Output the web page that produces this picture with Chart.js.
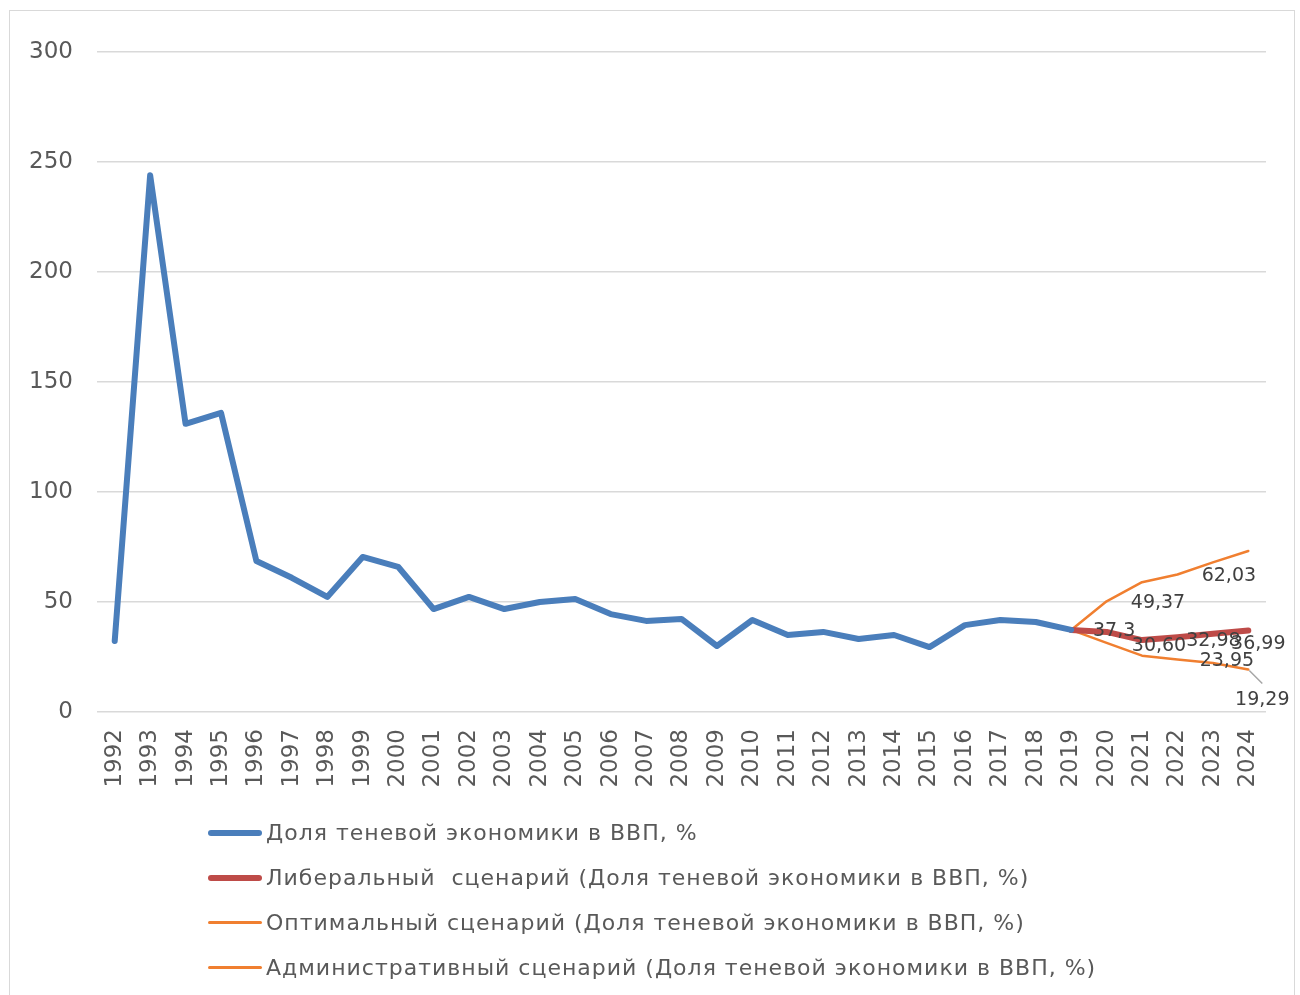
<!DOCTYPE html>
<html>
<head>
<meta charset="utf-8">
<script src="https://cdn.jsdelivr.net/npm/chart.js@4.4.1/dist/chart.umd.min.js"></script>
<style>
    body { margin: 0; background: #fff; font-family: "DejaVu Sans", sans-serif; }
    #frame { position: absolute; left: 9px; top: 10px; width: 1286px; height: 1000px; border: 1px solid #d9d9d9; box-sizing: border-box; }
    #wrap { position: absolute; left: 0; top: 0; width: 1300px; height: 995px; }
    #legend { position: absolute; left: 208px; top: 810px; }
    .row { height: 45px; display: flex; align-items: center; color: #595959; font-size: 22px; letter-spacing: 1px; white-space: pre; }
    .swatch { width: 54px; margin-right: 4px; border-radius: 3px; }
</style>
</head>
<body>
<div id="frame"></div>
<div id="wrap"><canvas id="chart" width="1300" height="995"></canvas></div>
<div id="legend"></div>
<script>
const years = ["1992", "1993", "1994", "1995", "1996", "1997", "1998", "1999", "2000", "2001", "2002",
    "2003", "2004", "2005", "2006", "2007", "2008", "2009", "2010", "2011", "2012", "2013", "2014",
    "2015", "2016", "2017", "2018", "2019", "2020", "2021", "2022", "2023", "2024"];

const shadowShare = [32.3, 244, 131, 136, 68.6, 61, 52.3, 70.5, 66, 46.8, 52.3, 46.8, 50, 51.4, 44.5,
    41.4, 42.3, 30, 41.8, 35, 36.4, 33.2, 35, 29.5, 39.5, 41.8, 40.9, 37.3];

// scenarios start from 2019
const pad = new Array(27).fill(null);
const liberal = pad.concat([37.3, 36.4, 32.7, 34.0, 35.6, 37.0]);
const optimal = pad.concat([37.3, 50.3, 59.0, 62.5, 68.0, 73.2]);
const administrative = pad.concat([37.3, 31.4, 25.6, 23.9, 22.3, 19.3]);

const seriesNames = [
    "Доля теневой экономики в ВВП, %",
    "Либеральный  сценарий (Доля теневой экономики в ВВП, %)",
    "Оптимальный сценарий (Доля теневой экономики в ВВП, %)",
    "Административный сценарий (Доля теневой экономики в ВВП, %)"
];

// label text, dataset, point index, offset
const pointLabels = [
    ["37,3", 1, 27, 43, 1],
    ["49,37", 2, 29, 16, 21],
    ["30,60", 1, 29, 17, 6],
    ["32,98", 1, 30, 36, 4],
    ["62,03", 2, 31, 16, 14],
    ["23,95", 3, 31, 14, -2],
    ["36,99", 1, 32, 10, 13],
    ["19,29", 3, 32, 14, 31]
];

const colors = ["#4a7ebb", "#be4b48", "#f07f30", "#f07f30"];
const widths = [6, 6, 2.5, 2.5];

const labelPlugin = {
    id: "pointLabels",
    afterDatasetsDraw(chart) {
        const ctx = chart.ctx;
        ctx.save();
        ctx.font = "19px 'DejaVu Sans'";
        ctx.fillStyle = "#404040";
        ctx.textAlign = "center";
        ctx.textBaseline = "middle";
        pointLabels.forEach(([text, ds, idx, dx, dy]) => {
            const x = chart.scales.x.getPixelForValue(idx);
            const y = chart.scales.y.getPixelForValue(chart.data.datasets[ds].data[idx]);
            if (text === "19,29") {
                ctx.strokeStyle = "#a6a6a6";
                ctx.lineWidth = 1.5;
                ctx.beginPath();
                ctx.moveTo(x + 1, y + 1);
                ctx.lineTo(x + 14, y + 14);
                ctx.stroke();
            }
            ctx.fillText(text, x + dx, y + dy);
        });
        ctx.restore();
    }
};

const data = [shadowShare, liberal, optimal, administrative];

new Chart(document.getElementById("chart"), {
    type: "line",
    data: {
        labels: years,
        datasets: data.map((d, i) => ({
            label: seriesNames[i],
            data: d,
            borderColor: colors[i],
            backgroundColor: colors[i],
            borderWidth: widths[i],
            pointRadius: 0,
            tension: 0,
            borderJoinStyle: "round",
            borderCapStyle: "round",
            spanGaps: false
        }))
    },
    options: {
        responsive: false,
        animation: false,
        layout: { padding: { left: 0, top: 52, right: 34, bottom: 193 } },
        plugins: { legend: { display: false }, tooltip: { enabled: false } },
        scales: {
            x: {
                offset: true,
                grid: { display: false },
                border: { display: false },
                afterFit: (s) => { s.height = 90; },
                ticks: {
                    minRotation: 90,
                    maxRotation: 90,
                    padding: 9,
                    autoSkip: false,
                    color: "#595959",
                    font: { family: "DejaVu Sans", size: 23 }
                }
            },
            y: {
                min: 0,
                max: 300,
                afterFit: (s) => { s.width = 97; },
                border: { display: false },
                grid: { color: "#d9d9d9", lineWidth: 1.5, drawTicks: false },
                ticks: {
                    stepSize: 50,
                    padding: 24,
                    color: "#595959",
                    font: { family: "DejaVu Sans", size: 23 }
                }
            }
        }
    },
    plugins: [labelPlugin]
});

const legend = document.getElementById("legend");
seriesNames.forEach((name, i) => {
    const row = document.createElement("div");
    row.className = "row";
    const sw = document.createElement("span");
    sw.className = "swatch";
    sw.style.height = widths[i] + "px";
    sw.style.background = colors[i];
    row.appendChild(sw);
    row.appendChild(document.createTextNode(name));
    legend.appendChild(row);
});
</script>
</body>
</html>
